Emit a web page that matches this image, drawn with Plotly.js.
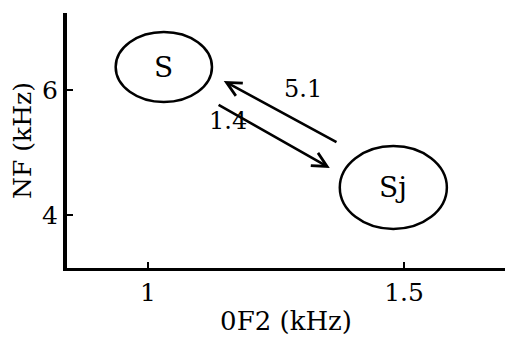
<!DOCTYPE html>
<html><head><meta charset="utf-8">
<script src="https://cdn.plot.ly/plotly-3.0.1.min.js"></script>
<style>html,body{margin:0;padding:0;background:#fff;}#chart{width:505px;height:339px;}</style>
</head><body><div id="chart"></div>
<script>
// States (ellipses)
const stateNames = ["S", "Sj"];
const stateX = [1.031, 1.479];
const stateY = [6.368, 4.44];
const stateRx = [0.094, 0.1045];
const stateRy = [0.56, 0.664];

// Transitions (arrows): tail -> head, with rate labels
const arrowTailX = [1.371, 1.135];
const arrowTailY = [5.152, 5.776];
const arrowHeadX = [1.148, 1.355];
const arrowHeadY = [6.144, 4.752];
const rateLabels = ["5.1", "1.4"];
const rateX = [1.303, 1.156];
const rateY = [6.016, 5.504];

// Axis ticks
const xTickVals = [1, 1.5];
const xTickText = ["1", "1.5"];
const yTickVals = [4, 6];
const yTickText = ["4", "6"];

const FONT = "DejaVu Serif, Liberation Serif, serif";

const shapes = stateNames.map((n, i) => ({
  type: "circle", xref: "x", yref: "y",
  x0: stateX[i] - stateRx[i], x1: stateX[i] + stateRx[i],
  y0: stateY[i] - stateRy[i], y1: stateY[i] + stateRy[i],
  line: {color: "#000", width: 2.5}
}));

const annotations = [];
stateNames.forEach((n, i) => annotations.push({
  x: stateX[i], y: stateY[i], xref: "x", yref: "y", text: n, showarrow: false,
  font: {family: FONT, size: 28, color: "#000"}
}));
rateLabels.forEach((t, i) => {
  annotations.push({
    x: arrowHeadX[i], y: arrowHeadY[i], ax: arrowTailX[i], ay: arrowTailY[i],
    xref: "x", yref: "y", axref: "x", ayref: "y", text: "", showarrow: true,
    arrowhead: 5, arrowsize: 1.1, arrowwidth: 2.6, arrowcolor: "#000"
  });
  annotations.push({
    x: rateX[i], y: rateY[i], xref: "x", yref: "y", text: t, showarrow: false,
    font: {family: FONT, size: 24, color: "#000"}
  });
});

const layout = {
  width: 505, height: 339,
  margin: {l: 67, r: 0, t: 13, b: 71, pad: 0},
  paper_bgcolor: "#fff", plot_bgcolor: "#fff",
  showlegend: false,
  font: {family: FONT, color: "#000"},
  xaxis: {
    range: [0.842, 1.697], showgrid: false, zeroline: false,
    showline: true, linecolor: "#000", linewidth: 3,
    ticks: "inside", ticklen: 6, tickwidth: 2, tickcolor: "#000",
    tickvals: xTickVals, ticktext: xTickText,
    tickfont: {family: FONT, size: 25, color: "#000"},
    title: {text: "0F2 (kHz)", font: {family: FONT, size: 26, color: "#000"}, standoff: 6},
    automargin: false, fixedrange: true
  },
  yaxis: {
    range: [3.152, 7.232], showgrid: false, zeroline: false,
    showline: true, linecolor: "#000", linewidth: 4,
    ticks: "inside", ticklen: 6, tickwidth: 2, tickcolor: "#000",
    tickvals: yTickVals, ticktext: yTickText,
    tickfont: {family: FONT, size: 25, color: "#000"},
    title: {text: "NF (kHz)", font: {family: FONT, size: 25, color: "#000"}, standoff: 4},
    automargin: false, fixedrange: true
  },
  shapes: shapes,
  annotations: annotations
};

Plotly.newPlot("chart", [{x: [], y: [], type: "scatter", mode: "markers"}], layout, {staticPlot: true, displayModeBar: false});
</script></body></html>
